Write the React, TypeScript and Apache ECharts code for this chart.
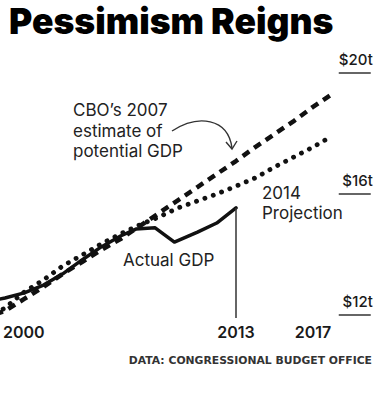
import React, { useEffect, useRef } from "react";
import * as echarts from "echarts";

// ---- Data (trillions of dollars) ----
const actualYears = [2000, 2001, 2002, 2003, 2004, 2005, 2006, 2007, 2007.8, 2008.8, 2009.8, 2011, 2012, 2013];
const actualValues = [12.43, 12.56, 12.73, 12.99, 13.36, 13.82, 14.25, 14.61, 14.84, 14.88, 14.41, 14.74, 15.04, 15.54];

const cbo2007Years = [2000.5, 2001, 2002, 2003, 2004, 2005, 2006, 2007, 2008, 2009, 2010, 2011, 2012, 2013, 2014, 2015, 2016, 2017, 2018];
const cbo2007Values = [12.03, 12.13, 12.53, 12.93, 13.36, 13.75, 14.15, 14.51, 14.94, 15.37, 15.8, 16.23, 16.66, 17.09, 17.55, 17.98, 18.41, 18.88, 19.31];

const proj2014Years = [2000.5, 2001, 2002, 2003, 2004, 2005, 2006, 2007, 2008, 2009, 2010, 2011, 2012, 2013, 2014, 2015, 2016, 2017, 2018];
const proj2014Values = [12.05, 12.23, 12.76, 13.16, 13.62, 13.98, 14.35, 14.68, 14.98, 15.24, 15.54, 15.77, 16.0, 16.26, 16.53, 16.89, 17.22, 17.55, 17.92];

const xTickYears = [2000, 2013, 2017];
const yTickValues = [12, 16, 20];

const lastActualYear = 2013;

const FONT = "Inter, 'Noto Sans', sans-serif";

function pairs(xs: number[], ys: number[]) {
  return xs.map((x, i) => [x, ys[i]]);
}

export default function App() {
  const ref = useRef<HTMLDivElement>(null);
  useEffect(() => {
    document.body.style.margin = "0";
    if (!ref.current) return;
    const chart = echarts.init(ref.current, null, { renderer: "svg" });
    const lastActual = actualValues[actualValues.length - 1];
    chart.setOption({
      animation: false,
      backgroundColor: "#ffffff",
      title: {
        text: "Pessimism Reigns",
        left: 4,
        top: -2,
        textStyle: {
          fontFamily: FONT,
          fontWeight: 900,
          fontSize: 35.5,
          color: "#000",
        },
      },
      grid: {
        left: -14.25,
        right: 4.25,
        top: 42.75,
        bottom: 75,
        outerBoundsMode: "none",
        containLabel: false,
      },
      xAxis: {
        type: "value",
        min: 2000,
        max: 2020,
        axisLine: { show: false },
        axisTick: { show: false },
        splitLine: { show: false },
        axisLabel: {
          customValues: xTickYears,
          margin: 6,
          fontFamily: FONT,
          fontWeight: 600,
          fontSize: 16,
          color: "#1a1a1a",
          formatter: (v: number) => (v === xTickYears[0] ? `{first|${v}}` : `{n|${v}}`),
          rich: {
            first: { padding: [0, 0, 0, 76], fontFamily: FONT, fontWeight: 600, fontSize: 16, color: "#1a1a1a" },
            n: { fontFamily: FONT, fontWeight: 600, fontSize: 16, color: "#1a1a1a" },
          },
        },
      },
      yAxis: {
        type: "value",
        position: "right",
        min: 11.9,
        max: 21,
        axisLine: { show: false },
        splitLine: { show: false },
        axisTick: {
          show: true,
          customValues: yTickValues,
          inside: true,
          length: 32,
          lineStyle: { color: "#333", width: 1.5 },
        },
        axisLabel: {
          customValues: yTickValues,
          inside: true,
          margin: -2,
          align: "right",
          verticalAlign: "bottom",
          padding: [0, 0, 6, 0],
          fontFamily: FONT,
          fontWeight: 500,
          fontSize: 15,
          color: "#1a1a1a",
          formatter: (v: number) => `$${v}t`,
        },
      },
      series: [
        {
          name: "CBO's 2007 estimate of potential GDP",
          type: "line",
          data: pairs(cbo2007Years, cbo2007Values),
          symbol: "none",
          lineStyle: { color: "#111", width: 4.5, type: [8, 6], cap: "butt" },
        },
        {
          name: "2014 Projection",
          type: "line",
          data: pairs(proj2014Years, proj2014Values),
          symbol: "none",
          lineStyle: { color: "#111", width: 4.8, type: [0.1, 8.8], cap: "round" },
        },
        {
          name: "Actual GDP",
          type: "line",
          data: pairs(actualYears, actualValues),
          symbol: "none",
          lineStyle: { color: "#111", width: 3.5, join: "round", cap: "round" },
          markLine: {
            silent: true,
            symbol: ["none", "none"],
            label: { show: false },
            lineStyle: { color: "#333", width: 1.5, type: "solid" },
            data: [[{ coord: [lastActualYear, lastActual] }, { coord: [lastActualYear, 11.9] }]],
          },
        },
      ],
      graphic: [
        {
          type: "text",
          left: 73,
          top: 100,
          style: {
            text: "CBO\u2019s 2007\nestimate of\npotential GDP",
            fontFamily: FONT,
            fontSize: 17,
            lineHeight: 20.5,
            fill: "#222",
          },
        },
        {
          type: "bezierCurve",
          shape: { x1: 172, y1: 131, cpx1: 198, cpy1: 114, cpx2: 228, cpy2: 118, x2: 232, y2: 148 },
          style: { stroke: "#333", lineWidth: 1.4, fill: "none" },
        },
        {
          type: "polyline",
          shape: { points: [[226, 142], [232, 149], [237, 141]] },
          style: { stroke: "#333", lineWidth: 1.4, fill: "none" },
        },
        {
          type: "text",
          left: 262,
          top: 183,
          style: {
            text: "2014\nProjection",
            fontFamily: FONT,
            fontSize: 17,
            lineHeight: 20,
            fill: "#222",
          },
        },
        {
          type: "text",
          left: 123,
          top: 251,
          style: {
            text: "Actual GDP",
            fontFamily: FONT,
            fontSize: 17,
            fill: "#222",
          },
        },
        {
          type: "text",
          right: 3,
          top: 355,
          style: {
            text: "DATA: CONGRESSIONAL BUDGET OFFICE",
            fontFamily: "'DejaVu Sans', sans-serif",
            fontWeight: 700,
            fontSize: 10.8,
            fill: "#333",
          },
        },
      ],
    });
    return () => chart.dispose();
  }, []);
  return <div ref={ref} style={{ width: 375, height: 393 }} />;
}
